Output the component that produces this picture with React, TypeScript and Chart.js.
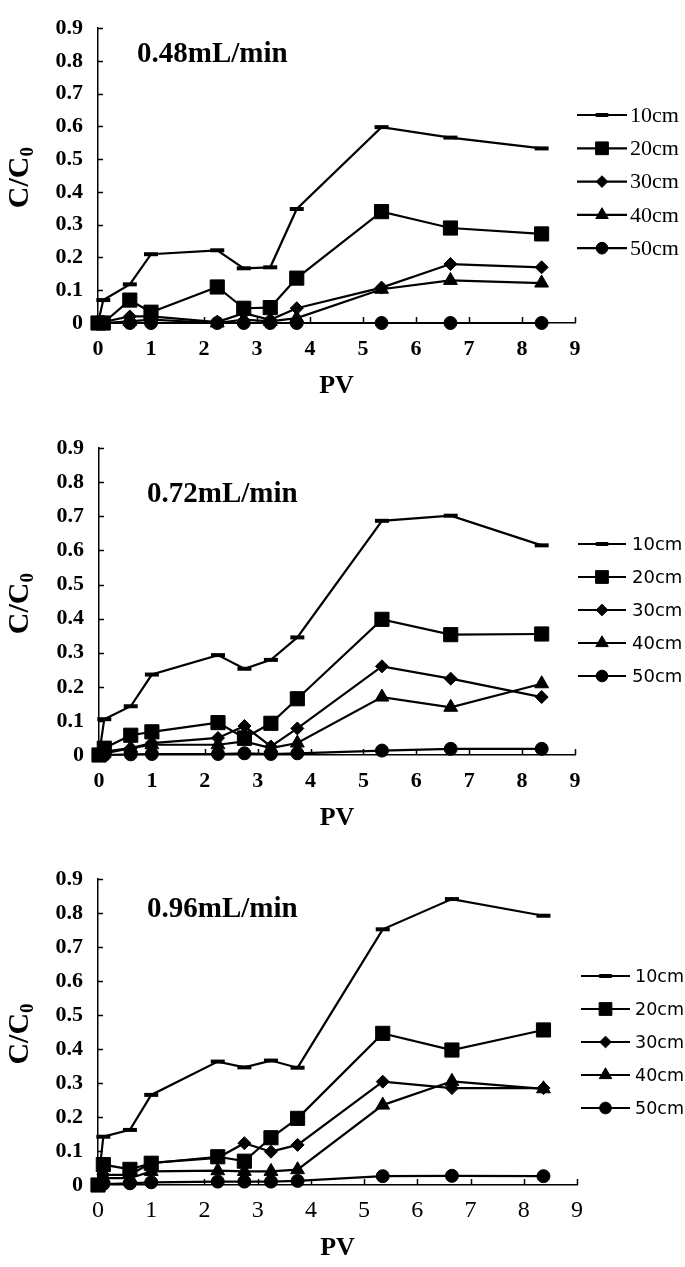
import React, { useEffect, useRef } from 'react';
import { Chart, registerables } from 'chart.js';

Chart.register(...registerables);

// ---------- data ----------
const PV = [0, 0.1, 0.6, 1.0, 2.25, 2.75, 3.25, 3.75, 5.35, 6.65, 8.37];
const DEPTHS = ['10cm', '20cm', '30cm', '40cm', '50cm'];
const RATES = ['0.48mL/min', '0.72mL/min', '0.96mL/min'];
const X_AXIS_TITLE = 'PV';
const Y_AXIS_MAIN = 'C/C';
const Y_AXIS_SUB = '0';

const R048_10 = [0, 0.07, 0.118, 0.21, 0.222, 0.167, 0.17, 0.348, 0.598, 0.566, 0.533];
const R048_20 = [0, 0, 0.07, 0.033, 0.11, 0.045, 0.047, 0.137, 0.34, 0.29, 0.272];
const R048_30 = [0, 0.003, 0.02, 0.02, 0.003, 0.03, 0.01, 0.045, 0.108, 0.18, 0.17];
const R048_40 = [0, 0, 0.005, 0.01, 0, 0.01, 0.005, 0.015, 0.103, 0.13, 0.122];
const R048_50 = [0, 0, 0, 0, 0, 0, 0, 0, 0, 0, 0];

const R072_10 = [0, 0.105, 0.143, 0.236, 0.293, 0.253, 0.279, 0.345, 0.687, 0.702, 0.615];
const R072_20 = [0, 0.02, 0.058, 0.068, 0.095, 0.05, 0.093, 0.165, 0.398, 0.353, 0.355];
const R072_30 = [0, 0.01, 0.02, 0.035, 0.05, 0.085, 0.025, 0.078, 0.26, 0.224, 0.17];
const R072_40 = [0, 0.005, 0.02, 0.03, 0.03, 0.04, 0.02, 0.035, 0.17, 0.14, 0.209];
const R072_50 = [0, 0, 0.002, 0.003, 0.003, 0.005, 0.003, 0.005, 0.013, 0.018, 0.018];

const R096_10 = [0, 0.142, 0.162, 0.265, 0.363, 0.346, 0.366, 0.345, 0.752, 0.841, 0.792];
const R096_20 = [0, 0.06, 0.046, 0.064, 0.083, 0.07, 0.139, 0.196, 0.446, 0.397, 0.456];
const R096_30 = [0, 0.03, 0.03, 0.065, 0.08, 0.123, 0.098, 0.118, 0.304, 0.285, 0.285];
const R096_40 = [0, 0.02, 0.02, 0.04, 0.042, 0.04, 0.04, 0.045, 0.235, 0.305, 0.283];
const R096_50 = [0, 0.003, 0.005, 0.008, 0.01, 0.01, 0.01, 0.012, 0.026, 0.027, 0.026];

const SERIES = [
  [R048_10, R048_20, R048_30, R048_40, R048_50],
  [R072_10, R072_20, R072_30, R072_40, R072_50],
  [R096_10, R096_20, R096_30, R096_40, R096_50],
];

// ---------- styles ----------
const SERIF = "'Liberation Serif', 'Times New Roman', serif";
const SANS = "'DejaVu Sans', Verdana, sans-serif";
const POINT_STYLES = ['line', 'rect', 'rectRot', 'triangle', 'circle'];
const POINT_RADII = [7, 10, 6.5, 8, 6.5];
const POINT_BORDERS = [4, 1, 1, 1, 1];

const PANELS = [
  {
    top: 0, height: 410, padTop: 15, padRight: 110, yWidth: 98, xHeight: 87,
    xTickFont: { family: SERIF, size: 22, weight: 'bold' }, xTickPad: 13, xTitlePad: 8.4,
    titleX: 137, titleBase: 62,
    legend: { x1: 577, x2: 627, tx: 630, y0: 115, step: 33.3, font: `22px ${SERIF}` },
  },
  {
    top: 420, height: 420, padTop: 26, padRight: 110, yWidth: 99, xHeight: 85,
    xTickFont: { family: SERIF, size: 22, weight: 'bold' }, xTickPad: 13, xTitlePad: 6.4,
    titleX: 147, titleBase: 82,
    legend: { x1: 578, x2: 626, tx: 632, y0: 124, step: 33, font: `18px ${SANS}` },
  },
  {
    top: 840, height: 427, padTop: 39, padRight: 108, yWidth: 98, xHeight: 82,
    xTickFont: { family: SERIF, size: 24, weight: 'normal' }, xTickPad: 11.6, xTitlePad: 3.4,
    titleX: 147, titleBase: 77,
    legend: { x1: 581, x2: 630, tx: 635, y0: 136, step: 33, font: `17.5px ${SANS}` },
  },
];

function drawMarker(ctx: CanvasRenderingContext2D, style: string, x: number, y: number, r: number, bw: number) {
  ctx.save();
  ctx.fillStyle = '#000';
  ctx.strokeStyle = '#000';
  ctx.lineWidth = bw;
  ctx.beginPath();
  if (style === 'line') {
    ctx.moveTo(x - r, y);
    ctx.lineTo(x + r, y);
    ctx.stroke();
  } else {
    if (style === 'rect') {
      const s = Math.SQRT1_2 * r;
      ctx.rect(x - s, y - s, 2 * s, 2 * s);
    } else if (style === 'rectRot') {
      ctx.moveTo(x - r, y);
      ctx.lineTo(x, y - r);
      ctx.lineTo(x + r, y);
      ctx.lineTo(x, y + r);
      ctx.closePath();
    } else if (style === 'triangle') {
      let a = 0;
      ctx.moveTo(x + Math.sin(a) * r, y - Math.cos(a) * r);
      a += (2 * Math.PI) / 3;
      ctx.lineTo(x + Math.sin(a) * r, y - Math.cos(a) * r);
      a += (2 * Math.PI) / 3;
      ctx.lineTo(x + Math.sin(a) * r, y - Math.cos(a) * r);
      ctx.closePath();
    } else {
      ctx.arc(x, y, r, 0, Math.PI * 2);
      ctx.closePath();
    }
    ctx.fill();
    ctx.stroke();
  }
  ctx.restore();
}

function makeDecor(panel: any, idx: number) {
  return {
    id: 'decor' + idx,
    beforeDatasetsDraw(chart: any) {
      const ctx = chart.ctx as CanvasRenderingContext2D;
      const xs = chart.scales.x;
      const ys = chart.scales.y;
      const area = chart.chartArea;
      ctx.save();
      ctx.strokeStyle = '#000';
      ctx.lineWidth = 1.5;
      ctx.beginPath();
      for (let v = 1; v <= 9; v++) {
        const px = Math.round(xs.getPixelForValue(v)) + 0.5;
        ctx.moveTo(px, area.bottom);
        ctx.lineTo(px, area.bottom - 6);
      }
      for (let k = 1; k <= 9; k++) {
        const py = Math.round(ys.getPixelForValue(k / 10)) + 0.5;
        ctx.moveTo(area.left, py);
        ctx.lineTo(area.left + 5, py);
      }
      ctx.stroke();
      ctx.restore();
    },
    afterDraw(chart: any) {
      const ctx = chart.ctx as CanvasRenderingContext2D;
      const area = chart.chartArea;
      ctx.save();
      ctx.fillStyle = '#000';
      // chart title inside plot
      ctx.font = `bold 29px ${SERIF}`;
      ctx.textAlign = 'left';
      ctx.textBaseline = 'alphabetic';
      ctx.fillText(RATES[idx], panel.titleX, panel.titleBase);

      // y-axis title with subscript
      const mainFont = `bold 30px ${SERIF}`;
      const subFont = `bold 19px ${SERIF}`;
      ctx.font = mainFont;
      const w1 = ctx.measureText(Y_AXIS_MAIN).width;
      ctx.font = subFont;
      const w2 = ctx.measureText(Y_AXIS_SUB).width;
      const total = w1 + w2;
      const cy = (area.top + area.bottom) / 2 + 2;
      ctx.translate(28, cy);
      ctx.rotate(-Math.PI / 2);
      ctx.font = mainFont;
      ctx.fillText(Y_AXIS_MAIN, -total / 2, 0);
      ctx.font = subFont;
      ctx.fillText(Y_AXIS_SUB, -total / 2 + w1, 5);
      ctx.restore();

      // legend
      const lg = panel.legend;
      ctx.save();
      for (let i = 0; i < DEPTHS.length; i++) {
        const y = lg.y0 + i * lg.step;
        ctx.strokeStyle = '#000';
        ctx.lineWidth = 2.2;
        ctx.beginPath();
        ctx.moveTo(lg.x1, y);
        ctx.lineTo(lg.x2, y);
        ctx.stroke();
        drawMarker(ctx, POINT_STYLES[i], (lg.x1 + lg.x2) / 2, y, POINT_RADII[i] * 0.9, POINT_BORDERS[i]);
        ctx.fillStyle = '#000';
        ctx.font = lg.font;
        ctx.textAlign = 'left';
        ctx.textBaseline = 'middle';
        ctx.fillText(DEPTHS[i], lg.tx, y + 1);
      }
      ctx.restore();
    },
  };
}

function Panel({ idx }: { idx: number }) {
  const ref = useRef<HTMLCanvasElement>(null);
  const panel = PANELS[idx];
  useEffect(() => {
    if (!ref.current) return;
    const datasets = DEPTHS.map((label, i) => ({
      label,
      data: PV.map((x, j) => ({ x, y: SERIES[idx][i][j] })),
      borderColor: '#000',
      backgroundColor: '#000',
      borderWidth: 2.2,
      pointStyle: POINT_STYLES[i],
      pointRadius: POINT_RADII[i],
      pointBorderWidth: POINT_BORDERS[i],
      pointBackgroundColor: '#000',
      pointBorderColor: '#000',
      tension: 0,
      clip: false,
    }));
    const chart = new Chart(ref.current, {
      type: 'line',
      data: { datasets },
      options: {
        animation: false,
        responsive: false,
        devicePixelRatio: 1,
        layout: {
          autoPadding: false,
          padding: { top: panel.padTop, right: panel.padRight, left: 0, bottom: 0 },
        },
        plugins: {
          legend: { display: false },
          tooltip: { enabled: false },
          title: { display: false },
        },
        scales: {
          x: {
            type: 'linear',
            min: 0,
            max: 9,
            afterFit: (s: any) => { s.height = panel.xHeight; },
            grid: { display: true, drawOnChartArea: false, drawTicks: false },
            border: { display: true, color: '#000', width: 1.5 },
            ticks: {
              stepSize: 1,
              color: '#000',
              font: panel.xTickFont,
              padding: panel.xTickPad,
              maxRotation: 0,
              autoSkip: false,
              callback: (v: any) => String(v),
            },
            title: {
              display: true,
              text: X_AXIS_TITLE,
              color: '#000',
              font: { family: SERIF, size: 26, weight: 'bold' },
              padding: { top: 0, bottom: panel.xTitlePad },
            },
          },
          y: {
            min: 0,
            max: 0.9,
            afterFit: (s: any) => { s.width = panel.yWidth; },
            grid: { display: true, drawOnChartArea: false, drawTicks: false },
            border: { display: true, color: '#000', width: 1.5 },
            ticks: {
              stepSize: 0.1,
              color: '#000',
              font: { family: SERIF, size: 22, weight: 'bold' },
              padding: 15,
              callback: (v: any) => (Math.abs(v) < 1e-9 ? '0' : Number(v).toFixed(1)),
            },
          },
        },
      } as any,
      plugins: [makeDecor(panel, idx)],
    });
    return () => chart.destroy();
  }, [idx]);
  return (
    <canvas
      ref={ref}
      width={685}
      height={panel.height}
      style={{ position: 'absolute', left: 0, top: panel.top, width: 685, height: panel.height }}
    />
  );
}

export default function App() {
  return (
    <div style={{ position: 'absolute', left: 0, top: 0, width: 685, height: 1267, background: '#fff' }}>
      <Panel idx={0} />
      <Panel idx={1} />
      <Panel idx={2} />
    </div>
  );
}
